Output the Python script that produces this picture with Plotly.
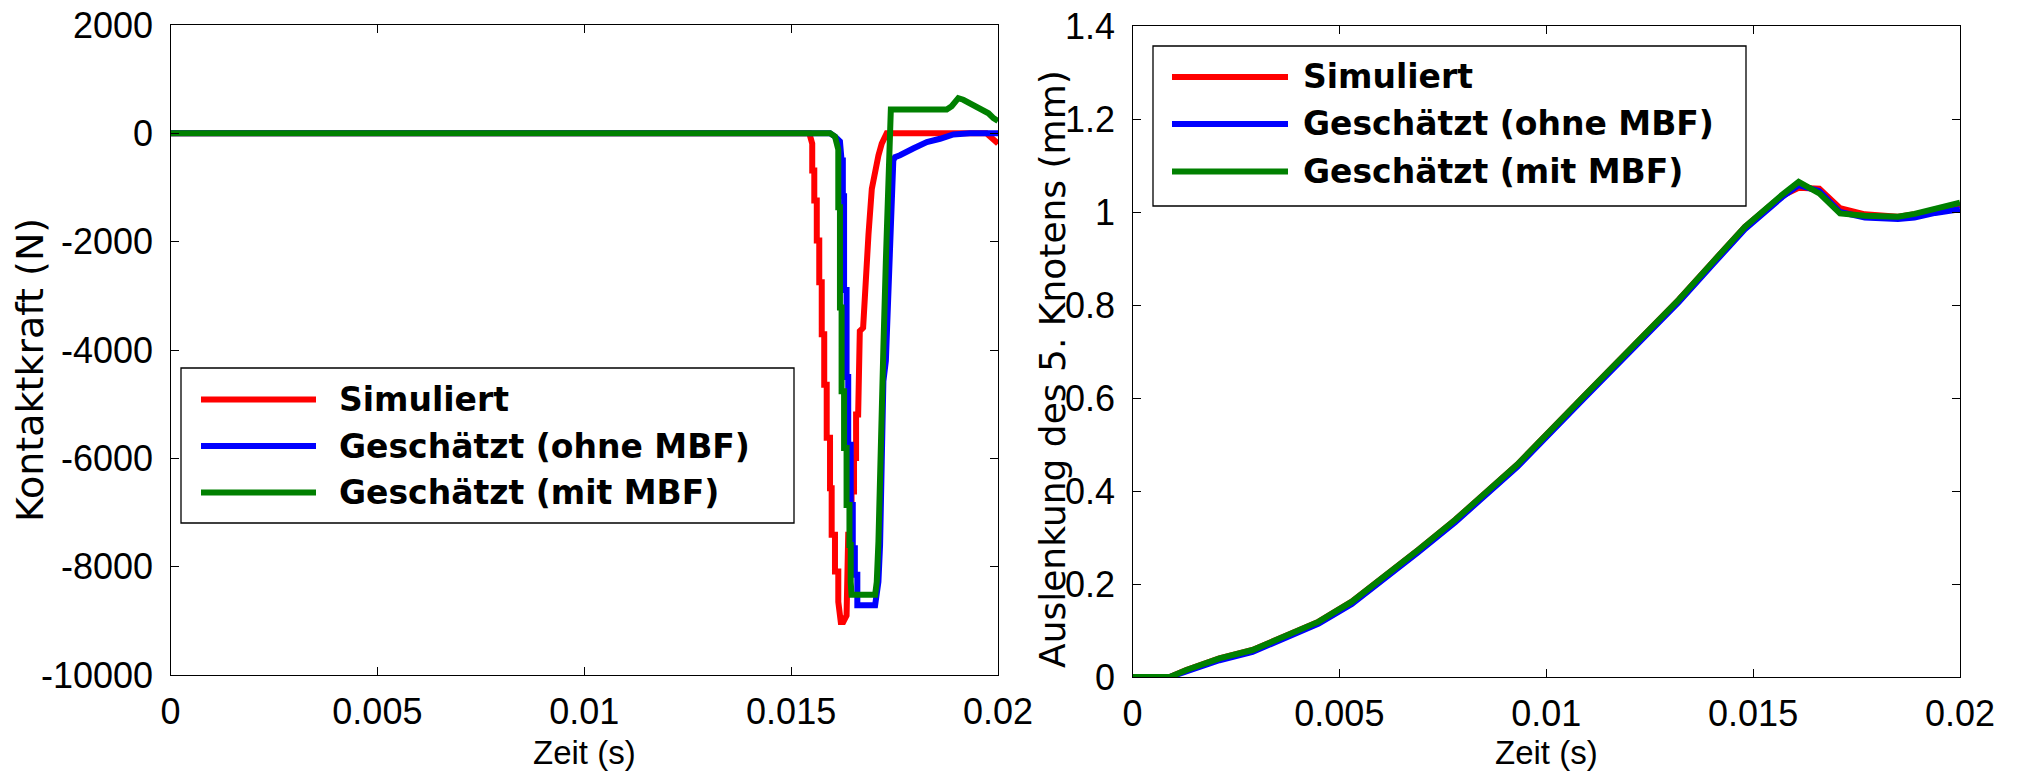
import plotly.graph_objects as go

# ---------------- data ----------------
# Left: Kontaktkraft (N) vs Zeit (s)
t_sim = [0, 0.01544, 0.01551, 0.01551, 0.01556, 0.01556, 0.01562, 0.01562, 0.01568, 0.01568,
         0.01574, 0.01574, 0.01580, 0.01580, 0.01586, 0.01586, 0.01594, 0.01594, 0.01598, 0.01598,
         0.01606, 0.01606, 0.01614, 0.01614, 0.01620, 0.01626, 0.01634, 0.01638, 0.01646, 0.01646,
         0.01652, 0.01652, 0.01657, 0.01657, 0.01662, 0.01664, 0.01666, 0.01674, 0.01681, 0.01687,
         0.01695, 0.01703, 0.01711, 0.01719, 0.01731, 0.01972, 0.01989, 0.02000]
f_sim = [0, 0, -190, -685, -685, -1240, -1240, -1980, -1980, -2750,
         -2750, -3710, -3710, -4640, -4640, -5620, -5620, -6550, -6550, -7410,
         -7410, -8090, -8090, -8650, -9020, -9020, -8900, -7410, -7410, -6610,
         -6610, -5995, -5995, -5190, -5190, -4510, -3650, -3590, -2350, -1860,
         -1025, -685, -407, -191, 0, 0, -120, -190]

t_ohne = [0, 0.01594, 0.01606, 0.01618, 0.01622, 0.01625, 0.01625, 0.01628, 0.01628, 0.01634,
          0.01634, 0.01638, 0.01638, 0.01644, 0.01644, 0.01649, 0.01649, 0.01654, 0.01654, 0.01660,
          0.01660, 0.01703, 0.01711, 0.01715, 0.01719, 0.01723, 0.01729, 0.01735, 0.01739, 0.01743,
          0.01747, 0.01751, 0.01763, 0.01795, 0.01828, 0.01860, 0.01892, 0.01932, 0.02000]
f_ohne = [0, 0, -60, -150, -500, -500, -1160, -1160, -2890, -2890,
          -4500, -4500, -5750, -5750, -6860, -6860, -7660, -7660, -8150, -8150,
          -8710, -8710, -8280, -7600, -6060, -4574, -4200, -2720, -1730, -990,
          -500, -440, -405, -280, -160, -100, -20, 0, 0]

t_mit = [0, 0.01594, 0.01606, 0.01614, 0.01614, 0.01618, 0.01618, 0.01622, 0.01622, 0.01628,
         0.01628, 0.01634, 0.01634, 0.01641, 0.01641, 0.01644, 0.01644, 0.01646, 0.01703, 0.01707,
         0.01711, 0.01715, 0.01719, 0.01723, 0.01729, 0.01735, 0.01739, 0.01741, 0.01771, 0.01876,
         0.01888, 0.01904, 0.01916, 0.01932, 0.01957, 0.01977, 0.01989, 0.02000]
f_mit = [0, 0, -60, -300, -1365, -1365, -3215, -3215, -4760, -4760,
         -5810, -5810, -6860, -6860, -7600, -7600, -8280, -8520, -8520, -8280,
         -7540, -6060, -4574, -3955, -2350, -1055, -130, 440, 440, 440,
         500, 650, 620, 560, 470, 370, 280, 230]

# Right: Auslenkung des 5. Knotens (mm) vs Zeit (s)
t_ausl = [0, 0.0009, 0.0013, 0.0021, 0.0029, 0.0037, 0.0045, 0.0053, 0.0061, 0.0069,
          0.0078, 0.0086, 0.0093, 0.0109, 0.0125, 0.0132, 0.0140, 0.0148, 0.0157, 0.0161,
          0.0166, 0.0171, 0.0177, 0.0185, 0.0189, 0.0194, 0.0200]
a_sim = [0, 0, 0.015, 0.040, 0.058, 0.087, 0.119, 0.162, 0.216, 0.273,
         0.338, 0.402, 0.457, 0.603, 0.746, 0.811, 0.890, 0.968, 1.035, 1.052,
         1.050, 1.008, 0.995, 0.990, 0.995, 1.005, 1.015]
a_ohne = [0, 0, 0.012, 0.036, 0.054, 0.083, 0.115, 0.157, 0.211, 0.268,
          0.333, 0.397, 0.452, 0.598, 0.741, 0.806, 0.885, 0.963, 1.032, 1.058,
          1.045, 1.000, 0.988, 0.985, 0.988, 0.998, 1.006]
a_mit = [0, 0, 0.015, 0.040, 0.058, 0.087, 0.119, 0.162, 0.216, 0.273,
         0.338, 0.402, 0.457, 0.603, 0.746, 0.811, 0.890, 0.968, 1.037, 1.065,
         1.040, 0.997, 0.992, 0.990, 0.996, 1.008, 1.020]

series_names = ["Simuliert", "Geschätzt (ohne MBF)", "Geschätzt (mit MBF)"]
series_colors = ["#ff0000", "#0000ff", "#008000"]

x_ticks = [0, 0.005, 0.01, 0.015, 0.02]
x_ticktext = ["0", "0.005", "0.01", "0.015", "0.02"]
y1_ticks = [2000, 0, -2000, -4000, -6000, -8000, -10000]
y1_ticktext = ["2000", "0", "-2000", "-4000", "-6000", "-8000", "-10000"]
y2_ticks = [0, 0.2, 0.4, 0.6, 0.8, 1.0, 1.2, 1.4]
y2_ticktext = ["0", "0.2", "0.4", "0.6", "0.8", "1", "1.2", "1.4"]

# ---------------- figure ----------------
W, H = 2017, 772
OFF = 8  # the page body margin shifts the figure by 8 px


def px(x):
    return (x - OFF) / W


def py(y):
    return 1 - (y - OFF) / H


LW = 6
fig = go.Figure()
left = [(t_sim, f_sim), (t_ohne, f_ohne), (t_mit, f_mit)]
for (tx, ty), name, col in zip(left, series_names, series_colors):
    fig.add_trace(go.Scatter(x=tx, y=ty, mode="lines", name=name, showlegend=False,
                             line=dict(color=col, width=LW), xaxis="x", yaxis="y"))
for ay, name, col in zip([a_sim, a_ohne, a_mit], series_names, series_colors):
    fig.add_trace(go.Scatter(x=t_ausl, y=ay, mode="lines", name=name, showlegend=False,
                             line=dict(color=col, width=LW), xaxis="x2", yaxis="y2"))

tick_font = dict(family="Liberation Sans, Arial, sans-serif", size=36, color="black")
axis_common = dict(showgrid=False, zeroline=False, showline=True, linecolor="black",
                   linewidth=1.3, mirror="allticks", ticks="inside", ticklen=8,
                   tickcolor="black", tickwidth=1.3, tickfont=tick_font, automargin=False,
                   ticklabeloverflow="allow")

fig.update_layout(
    width=W, height=H,
    margin=dict(l=0, r=0, t=0, b=0, autoexpand=False),
    paper_bgcolor="white", plot_bgcolor="white",
    xaxis=dict(domain=[px(170.5), px(998)], range=[0, 0.02], tickvals=x_ticks,
               ticktext=x_ticktext, anchor="y", ticklabelstandoff=5, **axis_common),
    yaxis=dict(domain=[py(675), py(25)], range=[-10000, 2000], tickvals=y1_ticks,
               ticktext=y1_ticktext, anchor="x", ticklabelstandoff=9, **axis_common),
    xaxis2=dict(domain=[px(1132.5), px(1960)], range=[0, 0.02], tickvals=x_ticks,
                ticktext=x_ticktext, anchor="y2", ticklabelstandoff=5, **axis_common),
    yaxis2=dict(domain=[py(677), py(26)], range=[0, 1.4], tickvals=y2_ticks,
                ticktext=y2_ticktext, anchor="x2", ticklabelstandoff=9, **axis_common),
)

xlabel_font = dict(family="Liberation Sans, Arial, sans-serif", size=33, color="black")
annotations = [
    dict(text="Zeit (s)", x=px(584), y=py(752.5), xref="paper", yref="paper",
         showarrow=False, font=xlabel_font, xanchor="center", yanchor="middle"),
    dict(text="Zeit (s)", x=px(1546), y=py(752.5), xref="paper", yref="paper",
         showarrow=False, font=xlabel_font, xanchor="center", yanchor="middle"),
    dict(text="Kontaktkraft (N)", x=px(30), y=py(370), xref="paper", yref="paper",
         showarrow=False, font=dict(family="DejaVu Sans, Verdana, sans-serif", size=38,
                                    color="black"),
         textangle=-90, xanchor="center", yanchor="middle"),
    dict(text="Auslenkung des 5. Knotens (mm)", x=px(1052), y=py(369), xref="paper",
         yref="paper", showarrow=False,
         font=dict(family="DejaVu Sans, Verdana, sans-serif", size=36, color="black"),
         textangle=-90, xanchor="center", yanchor="middle"),
]
shapes = []

# manual legends (MATLAB-style boxes with long line samples)
legend_font = dict(family="DejaVu Sans, Verdana, sans-serif", size=33, color="black",
                   weight="bold")
legend_boxes = [
    dict(box=(181, 368, 794, 523), line_x=(201, 316), text_x=337, rows=(399.5, 446, 492.5)),
    dict(box=(1153, 46, 1746, 206), line_x=(1172, 1288), text_x=1301, rows=(77, 124, 171.5)),
]
for lg in legend_boxes:
    x0, y0, x1, y1 = lg["box"]
    shapes.append(dict(type="rect", xref="paper", yref="paper", x0=px(x0), x1=px(x1),
                       y0=py(y1), y1=py(y0), line=dict(color="black", width=1.3),
                       fillcolor="white", layer="above"))
for lg in legend_boxes:
    for name, col, ry in zip(series_names, series_colors, lg["rows"]):
        shapes.append(dict(type="line", xref="paper", yref="paper", x0=px(lg["line_x"][0]),
                           x1=px(lg["line_x"][1]), y0=py(ry), y1=py(ry),
                           line=dict(color=col, width=6), layer="above"))
        annotations.append(dict(text=name, x=px(lg["text_x"]), y=py(ry), xref="paper",
                                yref="paper", showarrow=False, font=legend_font,
                                xanchor="left", yanchor="middle"))

fig.update_layout(annotations=annotations, shapes=shapes)
fig.write_html("out.html")
